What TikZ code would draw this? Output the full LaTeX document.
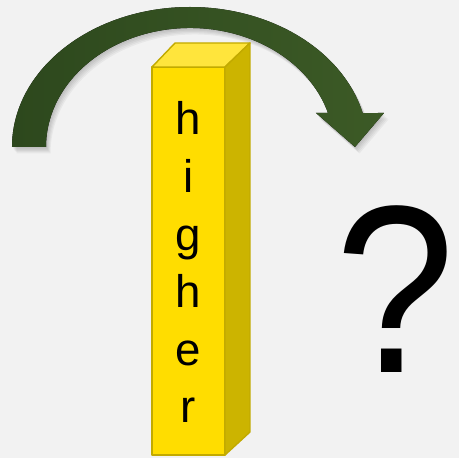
\documentclass[tikz,border=0pt]{standalone}
\usepackage{fontspec}
\setmainfont{Liberation Sans}
\definecolor{pagegray}{RGB}{242,242,242}
\definecolor{baryellow}{RGB}{255,221,0}
\definecolor{bartop}{RGB}{255,229,60}
\definecolor{barside}{RGB}{204,180,0}
\definecolor{baredge}{RGB}{194,170,0}
\definecolor{arrowdark}{RGB}{45,72,29}
\definecolor{arrowlight}{RGB}{60,90,38}
\newcommand{\curvepath}{(12,311) arc[start angle=180, end angle=14.05, x radius=178, y radius=140]
  -- (384,345) -- (355,311) -- (316,345) -- (328,345)
  arc[start angle=16.6, end angle=180, x radius=144, y radius=119] -- cycle}

\begin{document}
\begin{tikzpicture}[
    scale=0.02,
    face/.style={draw=baredge, line width=0.8pt, line join=round},
    letter/.style={anchor=base, inner sep=0pt, font=\fontsize{26}{30}\selectfont},
    qmark/.style={anchor=base, inner sep=0pt, xscale=0.9, font=\fontsize{136}{140}\selectfont}
]
\fill[pagegray] (0,0) rectangle (459,458);
\useasboundingbox (0,0) rectangle (459,458);
% curved arrow with soft shadow
\foreach \s in {1,...,5}
  \fill[black, opacity=0.045, shift={(0.9*\s,-1.3*\s)}] \curvepath;
\fill[left color=arrowdark, right color=arrowlight] \curvepath;
% the bar
\filldraw[face, fill=baryellow] (152,3) rectangle (225,391);
\filldraw[face, fill=bartop] (152,391) -- (225,391) -- (250,415) -- (175,415) -- cycle;
\filldraw[face, fill=barside] (225,3) -- (250,26) -- (250,415) -- (225,391) -- cycle;
\foreach \ch [count=\i] in {h,i,g,h,e,r}
  \node[letter] (l\i) at (188.5,323-57.6*\i+57.6) {\ch};
% question mark
\node[qmark] (q) at (395,85) {?};
\end{tikzpicture}
\end{document}
